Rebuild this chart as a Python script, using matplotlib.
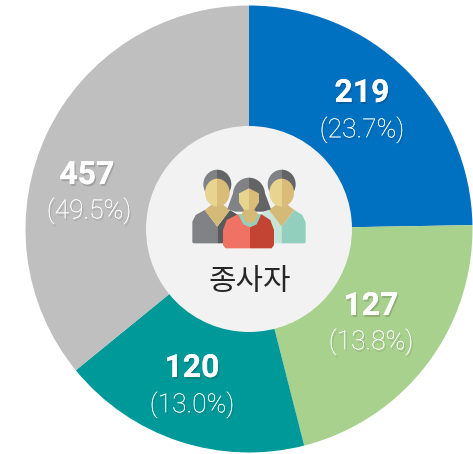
import matplotlib
matplotlib.use('Agg')
import matplotlib.pyplot as plt
import matplotlib.patheffects as pe
from matplotlib.patches import Circle, Ellipse, Polygon

values = [219, 127, 120, 457]
pcts = ['(23.7%)', '(13.8%)', '(13.0%)', '(49.5%)']
# the reference's sectors are not proportional to the values: degrees
sector_degrees = [89, 76.7, 65.1, 129.2]
colors = ['#0070c0', '#a9d18e', '#009999', '#bfbfbf']
center_label = '종사자'
label_xy = [(362, 93), (371, 306), (192, 368), (87, 175)]
pct_xy = [(362, 130), (371, 342), (192, 405), (89, 211)]

W, H = 473, 454
fig = plt.figure(figsize=(W/100, H/100), dpi=100, facecolor='white')
ax = fig.add_axes([0, 0, 1, 1])
Y = lambda y: H - y
CX, CY, R = 249, 229, 223.5

ax.pie(sector_degrees, colors=colors, startangle=90, counterclock=False,
       center=(CX, Y(CY)), radius=R, frame=True, wedgeprops=dict(linewidth=0))
ax.set_xlim(0, W); ax.set_ylim(0, H); ax.set_aspect('auto'); ax.axis('off')

ax.add_patch(Circle((CX, Y(CY)), 103, fc='#f2f2f2', ec='none', zorder=3))

shadow = [pe.withSimplePatchShadow(offset=(1, -1.5), shadow_rgbFace='#000000', alpha=0.15), pe.Normal()]
for v, p, (x1, y1), (x2, y2) in zip(values, pcts, label_xy, pct_xy):
    ax.text(x1, Y(y1), str(v), color='white', fontsize=23, fontweight='bold', family='Roboto',
            ha='center', va='center', zorder=4, path_effects=shadow)
    ax.text(x2, Y(y2), p, color='white', fontsize=19, fontweight='light', family='Roboto',
            ha='center', va='center', zorder=4, path_effects=shadow)

ax.text(250, Y(281), center_label, color='#262626', fontsize=21.5, family='Noto Sans CJK KR',
        ha='center', va='center', zorder=4)

# people icon (zoom coordinates -> pixels)
def Z(x, y):
    return (185 + x/3, Y(165 + y/3))
def poly(pts, c, z=5):
    ax.add_patch(Polygon([Z(*p) for p in pts], closed=True, fc=c, ec='none', zorder=z))
def half_ell(cx, cy, w, h, cl, cd, z):
    for c, x0 in ((cl, cx - w), (cd, cx)):
        e = Ellipse(Z(cx, cy), w/3, h/3, fc=c, ec='none', zorder=z)
        ax.add_patch(e)
        e.set_clip_path(plt.Rectangle((185 + x0/3, 0), w/3, H, transform=ax.transData))

HL, HD, SL, SD, COL = '#808285', '#636466', '#e8d48f', '#d9bc78', '#d4b978'

def man(cx, body_l, body_d, z):
    half_ell(cx, 58, 84, 88, HL, HD, z)
    half_ell(cx, 83, 74, 84, SL, SD, z + .1)
    poly([(cx-75, 232), (cx-75, 170), (cx-65, 150), (cx-38, 135), (cx, 185), (cx, 235), (cx-72, 235)], body_l, z)
    poly([(cx, 185), (cx+38, 135), (cx+62, 150), (cx+72, 172), (cx+72, 232), (cx+69, 235), (cx, 235)], body_d, z)
    poly([(cx-38, 135), (cx-18, 120), (cx+18, 120), (cx+38, 135), (cx, 185)], COL, z)

man(97, '#808285', '#58595b', 5)
man(290, '#c5e5d8', '#92d0bd', 5)

# woman
half_ell(192, 88, 96, 100, HL, HD, 6)
poly([(127, 132), (144, 85), (192, 85), (192, 140), (150, 140)], HL, 6)
poly([(192, 85), (240, 85), (258, 133), (235, 140), (192, 140)], HD, 6)
poly([(162, 85), (192, 70), (192, 142), (176, 134), (162, 112)], SL, 6.2)
poly([(192, 70), (222, 85), (222, 112), (208, 134), (192, 142)], SD, 6.2)
poly([(114, 240), (114, 195), (125, 165), (160, 147), (195, 147), (195, 250), (122, 250)], '#ef7264', 6.3)
poly([(195, 147), (228, 147), (256, 165), (267, 195), (267, 240), (260, 250), (195, 250)], '#c44434', 6.3)
poly([(159, 147), (175, 178), (195, 187), (215, 178), (229, 147)], '#92d0bd', 6.4)
poly([(170, 147), (180, 168), (195, 176), (210, 168), (219, 147), (208, 134), (178, 134)], COL, 6.5)

fig.savefig('out.png', dpi=100, facecolor='white')
